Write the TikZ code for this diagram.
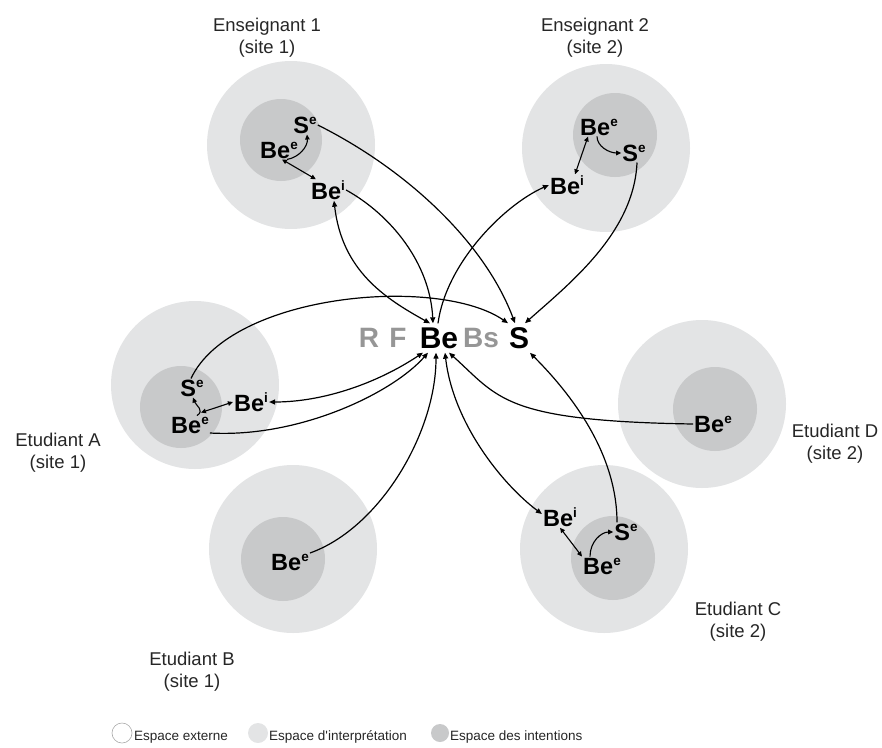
\documentclass[tikz,border=0pt]{standalone}
\usepackage{fontspec}
\setmainfont{Liberation Sans}
\usetikzlibrary{arrows.meta}
\definecolor{outerc}{RGB}{227,228,229}
\definecolor{innerc}{RGB}{200,201,202}
\definecolor{lgray}{RGB}{150,150,150}
\definecolor{legline}{RGB}{170,170,170}
\newcommand{\supx}[1]{\raisebox{9pt}{\fontsize{13.5}{13.5}\selectfont\bfseries #1}}
\begin{document}
\begin{tikzpicture}[x=1pt,y=-1pt,
  lab/.style={font=\fontsize{23.5}{25}\selectfont\bfseries, inner sep=1pt},
  big/.style={font=\fontsize{30}{32}\selectfont\bfseries, inner sep=4pt},
  biggray/.style={font=\fontsize{28}{32}\selectfont\bfseries, text=lgray, inner sep=4pt},
  who/.style={font=\fontsize{18.5}{22}\selectfont, align=center, text=black!85},
  leg/.style={font=\fontsize{13.5}{15}\selectfont, anchor=west, inner sep=0pt, text=black!85},
  conn/.style={line width=1.2pt, -{Triangle[length=6pt,width=5pt]}},
  dconn/.style={line width=1.2pt, {Triangle[length=6pt,width=5pt]}-{Triangle[length=6pt,width=5pt]}},
  sconn/.style={line width=1.1pt, -{Triangle[length=5pt,width=4.5pt]}},
  sdconn/.style={line width=1.1pt, {Triangle[length=5pt,width=4.5pt]}-{Triangle[length=5pt,width=4.5pt]}},
]
\useasboundingbox (0,0) rectangle (882,747);
% circles
\fill[outerc] (291,145) circle[radius=84];
\fill[innerc] (281,140) circle[radius=41];
\fill[outerc] (606,148) circle[radius=84];
\fill[innerc] (615,135) circle[radius=42];
\fill[outerc] (195,385) circle[radius=84];
\fill[innerc] (181,407) circle[radius=41];
\fill[outerc] (293,549) circle[radius=84];
\fill[innerc] (283,559) circle[radius=42];
\fill[outerc] (604,549) circle[radius=84];
\fill[innerc] (613,558) circle[radius=42];
\fill[outerc] (702,404) circle[radius=84];
\fill[innerc] (715,409) circle[radius=42];
% labels
\node[who] (wE1) at (267,38) {Enseignant 1\\(site 1)};
\node[who] (wE2) at (595,38) {Enseignant 2\\(site 2)};
\node[who] (wA) at (58,453) {Etudiant A\\(site 1)};
\node[who] (wB) at (192,672) {Etudiant B\\(site 1)};
\node[who] (wC) at (738,622) {Etudiant C\\(site 2)};
\node[who] (wD) at (835,444) {Etudiant D\\(site 2)};
% central
\node[biggray] (R) at (369,338) {R};
\node[biggray] (F) at (398,338) {F};
\node[big] (Be) at (439,338) {Be};
\node[biggray] (Bs) at (481,338) {Bs};
\node[big] (S) at (519,338) {S};
% E1
\node[lab] (e1S) at (305,125) {S\supx{e}};
\node[lab] (e1Bee) at (279,150) {Be\supx{e}};
\node[lab] (e1Bei) at (328,190) {Be\supx{i}};
% E2
\node[lab] (e2Bee) at (599,127) {Be\supx{e}};
\node[lab] (e2Se) at (634,153) {S\supx{e}};
\node[lab] (e2Bei) at (567,185) {Be\supx{i}};
% A
\node[lab] (aSe) at (192,388) {S\supx{e}};
\node[lab] (aBei) at (251,402) {Be\supx{i}};
\node[lab] (aBee) at (190,425) {Be\supx{e}};
% B
\node[lab] (bBee) at (290,562) {Be\supx{e}};
% C
\node[lab] (cBei) at (560,517) {Be\supx{i}};
\node[lab] (cSe) at (626,532) {S\supx{e}};
\node[lab] (cBee) at (602,566) {Be\supx{e}};
% D
\node[lab] (dBee) at (713,424) {Be\supx{e}};
% inner arrows
\draw[sconn] ([xshift=-12pt,yshift=0pt]e1Bee.south east) .. controls +(12,-2) and +(1,12) .. ([xshift=2pt]e1S.south);
\draw[sdconn] ([xshift=3pt]e1Bee.south) -- ([xshift=6pt]e1Bei.north west);
\draw[sconn] ([xshift=-2pt]e2Bee.south) .. controls +(0,10) and +(-12,0) .. (e2Se.west);
\draw[sdconn] ([xshift=-11pt]e2Bee.south) -- ([xshift=8pt]e2Bei.north);
\draw[sconn] ([xshift=7pt]aBee.north) .. controls +(8,-5) and +(3,8) .. ([xshift=1pt]aSe.south);
\draw[sdconn] ([xshift=-9pt,yshift=3pt]aBee.north east) -- (aBei.west);
\draw[sconn] ([xshift=-12pt]cBee.north) .. controls +(0,-15) and +(-12,0) .. (cSe.west);
\draw[sdconn] (cBei.south) -- (cBee.north west);
% long connectors
\draw[conn] (e1S.east) .. controls +(90,45) and +(-30,-80) .. ([xshift=-4pt]S.north);
\draw[conn] (e1Bei.east) .. controls +(45,25) and +(-3,-60) .. ([xshift=-6pt]Be.north);
\draw[dconn] ([xshift=6pt]e1Bei.south) .. controls +(8,70) and +(-45,-25) .. ([xshift=-9pt]Be.north);
\draw[conn] ([xshift=-1pt]Be.north) .. controls +(8,-60) and +(-45,20) .. (e2Bei.west);
\draw[conn] ([xshift=3pt]e2Se.south) .. controls +(-3,70) and +(45,-40) .. ([xshift=6pt]S.north);
\draw[conn] ([xshift=-1pt]aSe.north) .. controls +(40,-85) and +(-70,-48) .. ([xshift=-11pt]S.north);
\draw[dconn] (aBei.east) .. controls +(55,0) and +(-45,30) .. ([xshift=-16pt]Be.south);
\draw[conn] ([yshift=-8pt]aBee.east) .. controls +(90,5) and +(-35,40) .. ([xshift=-11pt]Be.south);
\draw[conn] ([yshift=9pt]bBee.east) .. controls +(70,-25) and +(0,80) .. ([xshift=-3pt]Be.south);
\draw[dconn] ([xshift=6pt]Be.south) .. controls +(8,70) and +(-40,-30) .. ([yshift=3pt]cBei.west);
\draw[conn] ([xshift=-9pt]cSe.north) .. controls +(0,-70) and +(40,40) .. ([xshift=11pt]S.south);
\draw[conn] (dBee.west) .. controls +(-190,-3) and +(50,45) .. ([xshift=10pt]Be.south);
% legend
\draw[legline, fill=white, line width=0.6pt] (122,733) circle[radius=10];
\node[leg] (l1) at (134,737) {Espace externe};
\fill[outerc] (258,733) circle[radius=10];
\node[leg] (l2) at (269,737) {Espace d\textquotesingle interprétation};
\fill[innerc] (440,733) circle[radius=9];
\node[leg] (l3) at (450,737) {Espace des intentions};
\end{tikzpicture}
\end{document}
